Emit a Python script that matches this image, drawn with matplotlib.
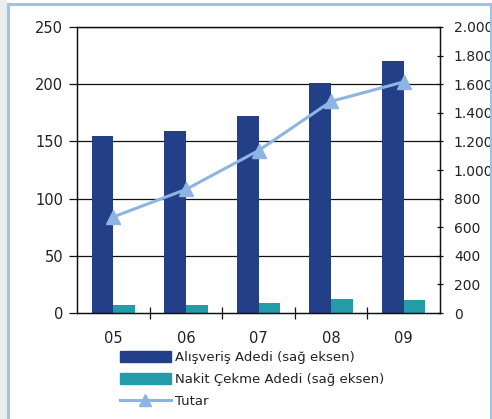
import numpy as np
import matplotlib.pyplot as plt
from matplotlib.patches import Rectangle
from matplotlib.lines import Line2D
from matplotlib.ticker import FixedLocator, FuncFormatter

# veriler
yillar = ["05", "06", "07", "08", "09"]
alisveris = [1240, 1272, 1376, 1608, 1760]   # sag eksen
nakit = [56, 56, 72, 96, 88]                 # sag eksen
tutar = [84, 108, 142, 185, 202]             # sol eksen
sol_ticks = [0, 50, 100, 150, 200, 250]
sag_ticks = list(range(0, 2001, 200))

koyu = "#233F88"
turkuaz = "#239BA8"
acik = "#8DB4E2"

plt.rcParams["font.family"] = "DejaVu Sans"

W, H = 492, 419
fig = plt.figure(figsize=(W / 100, H / 100), dpi=100)

# cerceve
fig.patches.append(Rectangle((0, 0), 6 / W, 1, transform=fig.transFigure,
                             color="#EDEDED", zorder=0))
fig.patches.append(Rectangle((7.5 / W, -0.1), (490.5 - 7.5) / W, (H + 40 - 2.5) / H,
                             transform=fig.transFigure, fill=False,
                             edgecolor="#9DC3E6", lw=2.2, zorder=1))

ax = fig.add_axes([77 / W, (H - 313) / H, 363 / W, 286 / H])
ax2 = ax.twinx()

x = np.arange(len(yillar))
ax.bar(x - 0.15, alisveris, width=0.3, color=koyu, zorder=2, label="Alışveriş Adedi (sağ eksen)")
ax.bar(x + 0.15, nakit, width=0.3, color=turkuaz, zorder=2, label="Nakit Çekme Adedi (sağ eksen)")
ax.set_ylim(0, 2000)
ax.set_xlim(-0.5, len(yillar) - 0.5)

# izgara: sol eksen degerlerinde
oran = 2000 / 250
for t in sol_ticks[1:]:
    ax.axhline(t * oran, color="#111111", lw=0.9, zorder=1)

ax2.plot(x, tutar, color=acik, lw=2.2, marker="^", markersize=10, zorder=3, label="Tutar")
ax2.set_ylim(0, 250)

# eksenler
ax.yaxis.tick_right()
ax.yaxis.set_major_locator(FixedLocator(sag_ticks))
ax.yaxis.set_major_formatter(FuncFormatter(lambda v, p: f"{int(v):,}".replace(",", ".")))
ax.tick_params(axis="y", direction="inout", length=5, width=0.9, labelsize=10,
               pad=7.5, colors="#111111", labelcolor="#222222")

ax2.yaxis.tick_left()
ax2.yaxis.set_major_locator(FixedLocator(sol_ticks))
ax2.tick_params(axis="y", direction="out", length=6, width=0.9, labelsize=10.5,
                pad=4, colors="#111111", labelcolor="#222222")

ax.set_xticks(x)
ax.set_xticklabels(yillar)
ax.set_xticks(np.arange(0.5, len(yillar) - 0.5), minor=True)
ax.tick_params(axis="x", which="major", length=0, labelsize=10.5, pad=13, labelcolor="#222222")
ax.tick_params(axis="x", which="minor", direction="inout", length=8, width=0.9, colors="#111111")

for a in (ax, ax2):
    for s in a.spines.values():
        s.set_color("#111111")
        s.set_linewidth(0.9)

# lejant
h = [Rectangle((0, 0), 1, 1, color=koyu), Rectangle((0, 0), 1, 1, color=turkuaz),
     Line2D([], [], color=acik, lw=2.2, marker="^", markersize=9)]
l = ["Alışveriş Adedi (sağ eksen)", "Nakit Çekme Adedi (sağ eksen)", "Tutar"]
fig.legend(h, l, loc="upper left", bbox_to_anchor=(120 / W, (H - 351) / H),
           frameon=False, fontsize=9.5, handlelength=3.85, handleheight=0.85,
           handletextpad=0.3, labelspacing=0.68, borderpad=0, borderaxespad=0,
           labelcolor="#222222")

fig.savefig("out.png", dpi=100)
